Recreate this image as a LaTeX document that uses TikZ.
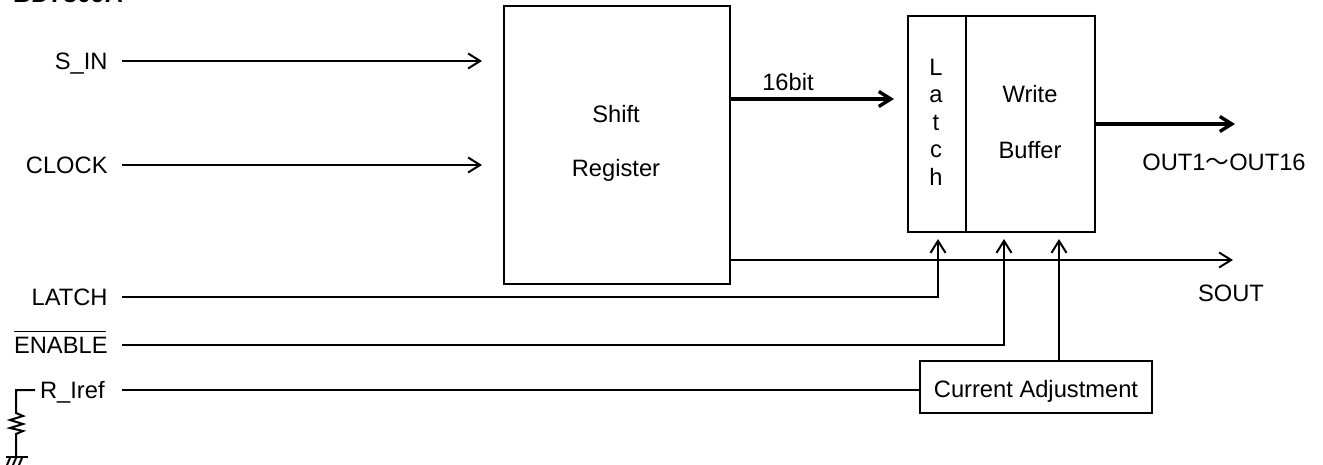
\documentclass[tikz,border=0pt]{standalone}
\usepackage{fontspec}
\setmainfont{Liberation Sans}
\newfontfamily\cjkfont{Noto Sans CJK JP}
\usetikzlibrary{arrows.meta}
\tikzset{
  >={Straight Barb[length=6pt,width=7.5pt,line width=1pt]},
  txt/.style={font=\fontsize{11.85}{14}\selectfont,inner sep=0pt},
  inlabel/.style={txt,anchor=east,inner xsep=7pt,text height=8.5pt,text depth=0pt},
  blockbox/.style={draw,line width=1pt,inner sep=0pt},
  sig/.style={line width=1pt},
  bus/.style={line width=2pt,>={Straight Barb[length=6pt,width=7.5pt,line width=1.7pt]}}
}
\begin{document}
\begin{tikzpicture}[x=0.5pt,y=-0.5pt]
  \useasboundingbox (0,0) rectangle (1323,465);
  % blocks
  \node[blockbox,minimum width=113pt,minimum height=139pt,anchor=north west] (shiftreg) at (503,5) {};
  \node[blockbox,minimum width=29pt,minimum height=108pt,anchor=north west] (latch) at (907,15) {};
  \node[blockbox,minimum width=64.5pt,minimum height=108pt,anchor=north west] (buffer) at (965,15) {};
  \node[blockbox,minimum width=116pt,minimum height=26pt,txt,text height=10pt,text depth=0pt] (adjust) at (1036,387) {Current Adjustment};
  % block texts
  \node[txt] (shifttxt) at (616,114) {Shift};
  \node[txt] (regtxt) at (616,170) {Register};
  \node[txt] (writetxt) at (1030,94) {Write};
  \node[txt] (buftxt) at (1030,150) {Buffer};
  \node[txt,align=center] (latchtxt) at (936,122) {L\\[-0.25pt]a\\[-0.25pt]t\\[-0.25pt]c\\[-0.25pt]h};
  % pins on the left
  \node[inlabel] (sin) at (122,61) {S\_IN};
  \node[inlabel] (clock) at (122,165) {CLOCK};
  \node[inlabel] (lat) at (122,297) {LATCH};
  \node[inlabel] (enable) at (122,345) {\rlap{\rule[10.8pt]{46pt}{0.6pt}}ENABLE};
  \node[inlabel,inner xsep=8.5pt] (iref) at (122,390) {R\_Iref};
  \node[txt,anchor=base,font=\fontsize{12.5}{14}\selectfont\bfseries] (title) at (68,2.5) {BD7809A};
  % free ends
  \coordinate (sintip) at (482,61);
  \coordinate (clocktip) at (482,165);
  \coordinate (bustip) at (894,99);
  \coordinate (latin) at (938,239);
  \coordinate (enin) at (1004,239);
  \coordinate (adjin) at (1059,239);
  \coordinate (sout) at (1233,260);
  \coordinate (out) at (1235,124);
  \coordinate (stub) at (35,390);
  % connectors
  \draw[sig,->] (sin.east) -- (sintip);
  \draw[sig,->] (clock.east) -- (clocktip);
  \draw[bus,->] (shiftreg.east |- bustip) -- (bustip);
  \draw[bus,->] (buffer.east |- out) -- (out);
  \draw[sig,->] (shiftreg.east |- sout) -- (sout);
  \draw[sig,->] (lat.east) -| (latin);
  \draw[sig,->] (enable.east) -| (enin);
  \draw[sig,->] (adjin |- adjust.north) -- (adjin);
  \draw[sig] (iref.east) -- (iref.east -| adjust.west);
  % outer labels
  \node[txt] (bustxt) at (788,82) {16bit};
  \node[txt] (outtxt) at (1224,162) {OUT1{\cjkfont ～}OUT16};
  \node[txt] (souttxt) at (1231,293) {SOUT};
  % resistor to ground
  \coordinate (rtop) at (16,413);
  \coordinate (rbot) at (16,434);
  \coordinate (gnd) at (16,457);
  \draw[sig] (stub) -- (16,390) -- (rtop) -- (23,416) -- (10,420) -- (23,424) -- (10,428) -- (23,431) -- (rbot) -- (gnd);
  \draw[sig] (6,457) -- (28,457);
  \foreach \xpos in {10,16,22} {
    \draw[sig] (\xpos,458) -- (\xpos-3,465);
  }
\end{tikzpicture}
\end{document}
